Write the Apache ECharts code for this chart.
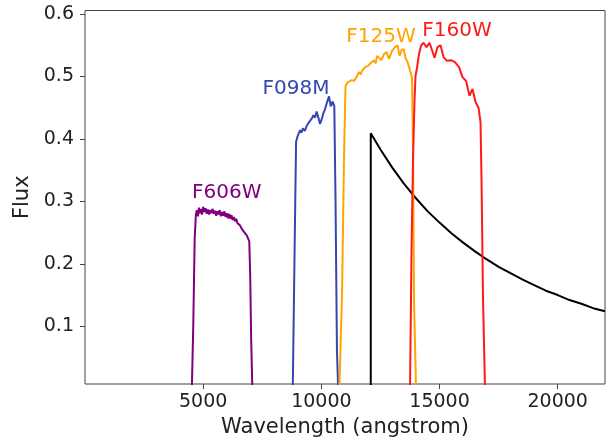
<!DOCTYPE html>
<html>
<head>
<meta charset="utf-8">
<script src="https://cdn.jsdelivr.net/npm/echarts@6/dist/echarts.min.js"></script>
<style>html,body{margin:0;padding:0;background:#fff;}#c{width:608px;height:445px;}</style>
</head>
<body>
<div id="c"></div>
<script>
// ---- data ----
const xTicks = [5000, 10000, 15000, 20000];
const yTicks = [0.1, 0.2, 0.3, 0.4, 0.5, 0.6];

const f606wX = [4520,4580,4640,4690,4730,4780,4820,4860,4900,4950,5000,5050,5100,5150,5200,5250,5300,5350,5400,5450,5500,5550,5600,5650,5700,5750,5800,5850,5900,5950,6000,6050,6100,6150,6200,6250,6300,6350,6400,6450,6500,6550,6600,6650,6700,6750,6800,6850,6900,6950,6990,7030,7080];
const f606wY = [0,0.10,0.24,0.278,0.286,0.276,0.290,0.281,0.288,0.279,0.291,0.283,0.289,0.280,0.287,0.279,0.286,0.281,0.288,0.280,0.285,0.277,0.284,0.279,0.286,0.276,0.283,0.277,0.284,0.275,0.281,0.273,0.280,0.272,0.278,0.270,0.275,0.268,0.272,0.265,0.268,0.262,0.263,0.255,0.258,0.250,0.252,0.245,0.243,0.236,0.18,0.08,0];

const f098mX = [8790,8860,8930,9000,9060,9100,9160,9220,9300,9380,9450,9520,9600,9660,9730,9800,9880,9943,10020,10083,10150,10226,10324,10396,10480,10548,10600,10660,10710];
const f098mY = [0,0.20,0.395,0.405,0.403,0.414,0.410,0.417,0.413,0.421,0.423,0.429,0.433,0.438,0.434,0.444,0.433,0.424,0.432,0.441,0.447,0.457,0.468,0.452,0.460,0.452,0.30,0.06,0];

const f125wX = [10760,10874,10958,11022,11128,11200,11276,11381,11487,11593,11660,11720,11847,11974,12101,12228,12300,12355,12439,12545,12651,12757,12862,12989,13116,13222,13307,13391,13476,13560,13645,13751,13835,13878,13920,14005];
const f125wY = [0,0.15,0.37,0.485,0.491,0.488,0.494,0.493,0.499,0.507,0.503,0.509,0.515,0.517,0.522,0.526,0.521,0.533,0.534,0.526,0.536,0.539,0.528,0.541,0.547,0.550,0.533,0.542,0.544,0.530,0.523,0.510,0.498,0.38,0.142,0];

const f160wX = [13751,13814,13878,13941,13984,14047,14132,14216,14322,14449,14576,14682,14788,14915,15041,15168,15316,15486,15655,15824,15972,16120,16268,16395,16522,16649,16734,16776,16840,16924];
const f160wY = [0,0.222,0.366,0.462,0.501,0.514,0.536,0.549,0.554,0.547,0.554,0.542,0.530,0.547,0.550,0.531,0.525,0.526,0.523,0.515,0.499,0.493,0.469,0.480,0.459,0.450,0.427,0.334,0.142,0];

const sedX = [12090,12090,12500,13000,13500,14000,14500,15000,15500,16000,16500,17000,17500,18000,18500,19000,19500,20000,20500,21000,21500,22000];
const sedY = [0,0.409,0.383,0.354,0.328,0.305,0.284,0.266,0.249,0.234,0.220,0.207,0.195,0.185,0.175,0.166,0.157,0.150,0.142,0.136,0.129,0.124];

const filterNames = ['F606W','F098M','F125W','F160W'];
const labelX = [5995, 8927, 12524, 15740];
const labelY = [0.3134, 0.4807, 0.5637, 0.5728];

// ---- chart ----
const colors = ['#800080','#3546b0','#ffa500','#ff1a1a'];
const FONT = 'DejaVu Sans';
function pairs(xs, ys){ return xs.map((x,i)=>[x, ys[i]]); }
const curves = [pairs(f606wX,f606wY), pairs(f098mX,f098mY), pairs(f125wX,f125wY), pairs(f160wX,f160wY)];

const series = curves.map((d,i)=>({
  type:'line', data:d, showSymbol:false, symbol:'none', clip:true, animation:false,
  lineStyle:{color:colors[i], width:2}, z: 3+i,
  markPoint:{
    symbol:'circle', symbolSize:0, animation:false,
    data:[{coord:[labelX[i], labelY[i]]}],
    label:{show:true, position:'inside', formatter:filterNames[i], color:colors[i], fontSize:20, fontFamily:FONT}
  }
}));
series.push({type:'line', data:pairs(sedX,sedY), showSymbol:false, symbol:'none', clip:true, animation:false,
  lineStyle:{color:'#000', width:2}, z:2});

const chart = echarts.init(document.getElementById('c'), null, {renderer:'canvas'});
chart.setOption({
  animation:false,
  backgroundColor:'#fff',
  grid:{left:85, right:3, top:10.5, bottom:61, show:true, borderColor:'#444', borderWidth:1, backgroundColor:'transparent'},
  xAxis:{type:'value', min:0, max:22000,
    name:'Wavelength (angstrom)', nameLocation:'middle', nameGap:33,
    nameTextStyle:{fontSize:21, color:'#222', fontFamily:FONT},
    axisLine:{show:false}, splitLine:{show:false},
    axisTick:{show:true, inside:false, length:5, lineStyle:{color:'#444'}, customValues:xTicks},
    axisLabel:{fontSize:19, color:'#222', fontFamily:FONT, margin:9, customValues:xTicks,
      formatter:(v)=>String(Math.round(v))}
  },
  yAxis:{type:'value', min:0.0076, max:0.6056,
    name:'Flux', nameLocation:'middle', nameGap:47, nameRotate:90,
    nameTextStyle:{fontSize:21, color:'#222', fontFamily:FONT},
    axisLine:{show:false}, splitLine:{show:false},
    axisTick:{show:true, inside:false, length:5, lineStyle:{color:'#444'}, customValues:yTicks},
    axisLabel:{fontSize:19, color:'#222', fontFamily:FONT, margin:11, customValues:yTicks,
      formatter:(v)=>String(Math.round(v*10)/10)}
  },
  series:series
});
</script>
</body>
</html>
